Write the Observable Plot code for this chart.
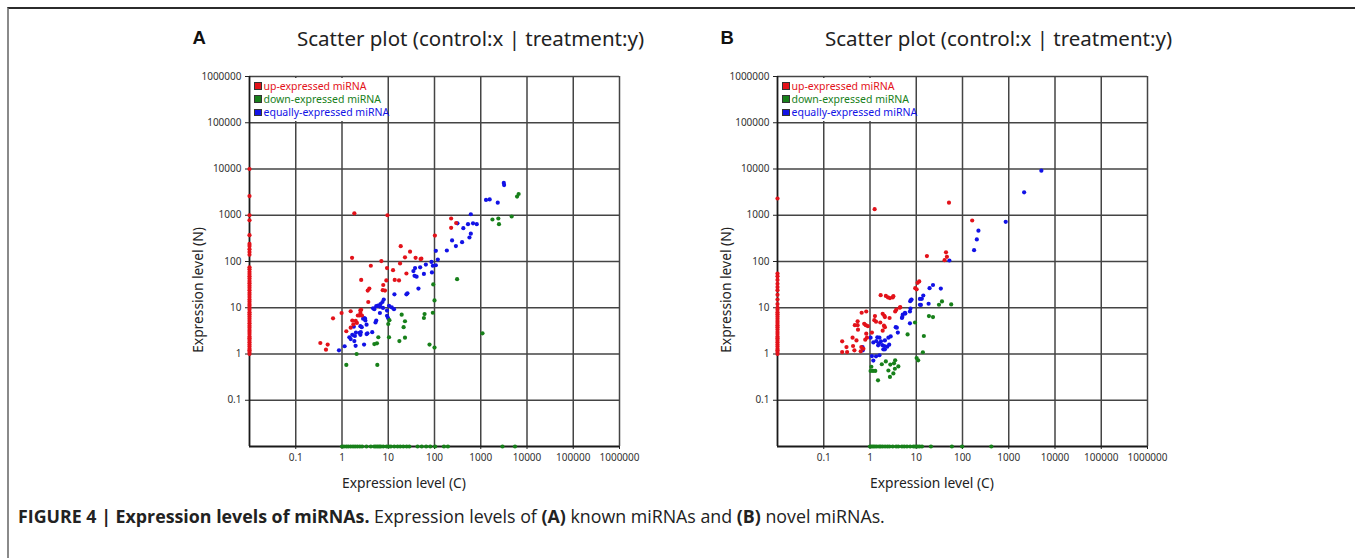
<!DOCTYPE html>
<html>
<head>
<meta charset="utf-8">
<script src="https://cdn.jsdelivr.net/npm/d3@7"></script>
<script src="https://cdn.jsdelivr.net/npm/@observablehq/plot@0.6"></script>
<style>
  html, body { margin: 0; padding: 0; background: #fff; }
  #fig { position: relative; width: 1355px; height: 558px; overflow: hidden; background: #fff; font-family: "Noto Sans", sans-serif; }
  .abs { position: absolute; white-space: nowrap; }
  .panel-letter { font-family: "Liberation Sans", Arial, sans-serif; font-weight: bold; font-size: 18.5px; line-height: 1; color: #111; }
  .title { font-family: "Noto Sans", sans-serif; font-size: 20.5px; line-height: 1; color: #222; }
  .xlabel { font-size: 13.8px; line-height: 1; color: #222; transform: translateX(-50%); }
  .ylabel { font-size: 13.8px; line-height: 1; color: #222; transform: translate(-50%, -50%) rotate(-90deg); }
  .legbox { background: #fff; }
  .leg { font-size: 10.5px; line-height: 1; display: flex; align-items: center; }
  .leg i { display: inline-block; width: 5.5px; height: 5.5px; margin-right: 2px; border: 0.8px solid #333; }
  .caption { font-family: "Open Sans", sans-serif; font-size: 16px; line-height: 18px; color: #222; }
</style>
</head>
<body>
<div id="fig"></div>
<script>
// ---------- data ----------
const panelLetters = ["A", "B"];
const titleText = "Scatter plot (control:x | treatment:y)";
const xLabelText = "Expression level (C)";
const yLabelText = "Expression level (N)";
const legendLabels = ["up-expressed miRNA", "down-expressed miRNA", "equally-expressed miRNA"];
const tickValues = [0.1, 1, 10, 100, 1000, 10000, 100000, 1000000];

// Panel A: known miRNAs  [control, treatment]
const upA = [[1.85,1100],[9.6,1000],[102,363],[18.6,214],[29.6,163],[23,123],[39,120],[50,113],[18,91],[1.65,120],[7.1,102],[4.2,81],[9.4,72],[12.7,65],[24.7,55],[2.6,40],[9.1,39],[13.8,40],[17.1,39],[7.8,31],[3.9,26],[3.6,23.5],[7.6,24],[8.5,23.5],[3.7,13.3],[1.54,8.4],[0.98,7.7],[0.64,5.9],[2.5,8.8],[2.5,7.7],[2.2,6.8],[2.4,6.8],[2.7,6.8],[1.67,5.3],[1.98,5.2],[2.1,4.7],[1.54,3.7],[1.24,3.1],[0.34,1.73],[0.49,1.6],[0.45,1.24],[1.76,4.35],[2.6,9.0],[229,850],[294,680],[229,534],[52,115]];
const upAControlZero = [10000,2600,1000,780,370,240,215,185,160,140,75,68,60,54,48,43,38,34,30,27,24,21,19,17,15,13.5,12,11,10,9,8,7.2,6.5,5.8,5.2,4.6,4.1,3.7,3.3,3.0,2.7,2.4,2.2,2.0,1.8,1.6,1.45,1.3,1.2,1.1,1.0];
const downA = [[6600,2880],[6100,2530],[1790,810],[2400,850],[2480,640],[4660,940],[308,41.5],[94,32],[100,14.4],[61,7.3],[59,6],[92,7.8],[1090,2.8],[78,1.6],[100,1.38],[19.5,7.1],[23,5.1],[21.5,3.8],[23,2.25],[17.4,1.9],[10.6,5.4],[10,4.45],[10.4,2.3],[6.1,2.3],[5.7,1.7],[5.0,1.64],[2.07,1.0],[1.24,0.58],[5.8,0.58]];
const downATreatmentZero = [1.0,1.1,1.24,1.37,1.54,1.73,1.92,2.15,2.42,2.72,3.38,4.2,4.95,5.4,5.9,6.4,6.9,7.8,9.2,10.3,11.4,13.5,15.9,18.2,21.2,25,28.6,43,53,66,81,103,160,195,2950,5500];
const equalA = [[3150,5000],[3200,4500],[1300,2140],[1560,2200],[2330,1870],[610,1050],[313,670],[530,640],[680,670],[820,640],[420,525],[610,400],[570,330],[240,285],[395,262],[290,215],[185,173],[107,170],[118,110],[86,98],[65,86],[92,81],[107,83],[88,58],[59,54],[49,75],[38,72],[35,62],[37,49],[41,47],[45,26],[24.7,19.5],[26,20.5],[13.6,19.5],[8,15],[7.5,13.3],[6.8,12],[6,11.1],[4.7,9.7],[5,9.3],[5.5,10.8],[6.6,10.6],[7.7,9.9],[10.4,11],[11.9,10.2],[13.3,9.3],[9.4,8.7],[9.4,6.7],[9.9,6],[6.6,7.7],[5.5,5.3],[5.3,4.8],[3,6],[3.2,5.3],[3.4,4.3],[2.5,4],[2,2.9],[2.4,2.85],[2.5,2.6],[3.4,2.7],[1.67,2.6],[1.9,2.45],[1.44,2.3],[1.54,2.1],[1.85,1.9],[1.97,1.5],[3,1.6],[1.14,1.47],[0.86,1.2],[1.8,3.9],[2.55,2.96],[2.67,3.8],[3.55,2.8],[4.5,2.96],[2.86,5.8],[3.16,5.8]];

// Panel B: novel miRNAs  [control, treatment]
const upB = [[17,131],[11.6,37],[10.7,34.6],[9.5,26.5],[10.2,25],[1.7,18.7],[2.2,18],[2.45,16.7],[2.7,16.2],[3.1,16.7],[3.2,17.8],[4.5,10.3],[3.7,9.1],[3.5,8.3],[1.88,7.4],[2.04,6.7],[2.1,6.3],[2.65,6],[1.28,6.6],[1.24,5.4],[1.35,5],[1.67,4.8],[2,4.1],[2.1,3.8],[1.88,3.2],[0.83,8.3],[0.66,7.8],[0.54,5.1],[0.54,4.2],[0.47,4.2],[0.75,4.5],[0.81,4.2],[0.9,4],[0.55,3.35],[0.83,2.75],[0.86,2.25],[0.79,2.04],[1.1,2.9],[0.42,2.25],[0.51,1.97],[0.25,1.88],[0.31,1.41],[0.25,1.1],[0.32,1.1],[0.43,1.49],[0.46,1.2],[0.65,1.41],[0.72,1.3],[0.63,1.14],[1.26,1350],[51,1870],[162,770],[44,158],[46,126],[41,107],[4.4,10]];
const upBControlZero = [2300,55,48,40,33,28,24,19,15,12,10,9,8,7.2,6.5,5.8,5.2,4.7,4.2,3.8,3.4,3.0,2.7,2.4,2.2,2.0,1.8,1.6,1.45,1.3,1.2,1.1,1.0];
const downB = [[1.07,0.53],[1.03,0.43],[1.16,0.43],[1.3,0.43],[1.49,0.27],[1.8,0.6],[2.2,0.69],[2.75,0.59],[2.5,0.44],[2.7,0.32],[3.2,0.38],[3.45,0.48],[3.3,0.63],[3.5,0.73],[4.1,0.54],[6.5,2.65],[9.4,4.8],[10.2,0.82],[11,0.73],[14.6,2.45],[13.9,1.09],[18.8,6.6],[23,6.3],[36,13.7],[31,11.6],[57,11.8]];
const downBTreatmentZero = [1.0,1.09,1.18,1.28,1.4,1.57,1.7,1.88,2.12,2.38,2.64,3.1,3.67,4.1,4.9,5.5,6.3,7.4,8.7,9.5,10.7,11.8,13.3,20.8,59,98,420];
const equalB = [[5070,9200],[2150,3130],[860,720],[221,465],[204,300],[178,176],[52,105],[34,26],[23,31],[19.4,26.5],[14.2,18.4],[13.2,15.6],[12,15.5],[12,11.6],[18.5,12.2],[7.8,14.9],[7.4,13.9],[7.3,8.3],[5.7,7.8],[5.1,7.1],[4.9,6],[7.3,4.6],[3.6,3.8],[3.8,3.7],[4,2.9],[2.8,2.4],[2.5,2.25],[2.1,1.97],[1.73,1.88],[1.56,1.7],[1.84,1.56],[2.04,1.49],[1.94,1.26],[2.1,1.26],[2.36,1.44],[1.18,1.78],[1.03,2.25],[1.37,1.9],[1.44,2.3],[1.6,2.25],[1.5,1.54],[0.69,1.41],[0.7,1.2],[1.1,0.9],[1.18,0.72],[1.35,0.89],[1.6,0.94],[2.6,1.59],[5.8,7.5],[5.0,6.3],[7.5,9.6],[12.6,11.5],[7.9,15]];

// ---------- style ----------
const colors = { up: "#e3121a", down: "#17801a", equal: "#1212e6" };
const legendColors = [colors.up, colors.down, colors.equal];
const scaleDomain = [0.01, 1000000]; // zero values are drawn on the axis (domain floor)

const fig = document.getElementById("fig");
function addDiv(cls, text, css) {
  const d = document.createElement("div");
  d.className = "abs " + cls;
  if (text != null) d.textContent = text;
  Object.assign(d.style, css);
  fig.appendChild(d);
  return d;
}

// outer figure frame
addDiv("", null, { left: "7px", top: "7px", width: "1400px", height: "600px", borderTop: "2px solid #2b2b2b", borderLeft: "2px solid #8a8a8a" });

function makePanel(up, upZero, down, downZero, equal) {
  const floor = scaleDomain[0];
  const pts = (arr) => arr.map(([x, y]) => ({ x, y }));
  const upRows = pts(up).concat(upZero.map(y => ({ x: 0, y })));
  const downRows = pts(down).concat(downZero.map(x => ({ x, y: 0 })));
  const eqRows = pts(equal);
  const X = d => Math.max(d.x, floor), Y = d => Math.max(d.y, floor);
  return Plot.plot({
    width: 480, height: 440,
    marginLeft: 79, marginTop: 16, marginRight: 31, marginBottom: 54,
    style: { background: "transparent", fontFamily: "Noto Sans", fontSize: "10px", color: "#333", overflow: "visible" },
    x: { type: "log", domain: scaleDomain },
    y: { type: "log", domain: scaleDomain },
    marks: [
      Plot.ruleX(tickValues, { stroke: "#444", strokeWidth: 1.5 }),
      Plot.ruleY(tickValues, { stroke: "#444", strokeWidth: 1.5 }),
      Plot.ruleX([floor], { stroke: "#1a1a1a", strokeWidth: 1.8 }),
      Plot.ruleY([floor], { stroke: "#1a1a1a", strokeWidth: 1.8 }),
      Plot.axisX(tickValues, { tickFormat: d => String(d), tickSize: 3, tickPadding: 4, label: null, stroke: "#222" }),
      Plot.axisY(tickValues, { tickFormat: d => String(d), tickSize: 4, tickPadding: 4, label: null, stroke: "#222" }),
      Plot.dot(eqRows, { x: X, y: Y, r: 2.1, fill: colors.equal, stroke: "none" }),
      Plot.dot(upRows, { x: X, y: Y, r: 2.1, fill: colors.up, stroke: "none" }),
      Plot.dot(downRows, { x: X, y: Y, r: 2.1, fill: colors.down, stroke: "none" })
    ]
  });
}

const panels = [
  [upA, upAControlZero, downA, downATreatmentZero, equalA],
  [upB, upBControlZero, downB, downBTreatmentZero, equalB]
];
const offsets = [0, 528];

panels.forEach((p, i) => {
  const dx = offsets[i];
  const svg = makePanel(...p);
  svg.style.position = "absolute";
  svg.style.left = (170 + dx) + "px";
  svg.style.top = "60px";
  fig.appendChild(svg);

  addDiv("panel-letter", panelLetters[i], { left: (192.5 + dx) + "px", top: "28.5px" });
  addDiv("title", titleText, { left: (297 + dx) + "px", top: "28.3px" });
  addDiv("xlabel", xLabelText, { left: (404 + dx) + "px", top: "475.7px" });
  addDiv("ylabel", yLabelText, { left: (198 + dx) + "px", top: "290px" });

  // legend (white box hiding the grid behind it)
  addDiv("legbox", null, { left: (251 + dx) + "px", top: "77.5px", width: "135.5px", height: "43.5px" });
  legendLabels.forEach((lab, k) => {
    const d = addDiv("leg", null, { left: (254 + dx) + "px", top: (80.5 + k * 13.3) + "px", color: legendColors[k] });
    const sq = document.createElement("i");
    sq.style.background = legendColors[k];
    d.appendChild(sq);
    d.appendChild(document.createTextNode(lab));
  });
});

// caption, sized to the reference's line width
const cap = addDiv("caption", null, { left: "18px", top: "507px" });
cap.innerHTML = "<b>FIGURE 4 | Expression levels of miRNAs.</b> Expression levels of <b>(A)</b> known miRNAs and <b>(B)</b> novel miRNAs.";
const targetW = 867;
const w = cap.getBoundingClientRect().width;
if (w > 0) {
  const fs = Math.max(14, Math.min(18, 16 * targetW / w));
  cap.style.fontSize = fs + "px";
}
</script>
</body>
</html>
